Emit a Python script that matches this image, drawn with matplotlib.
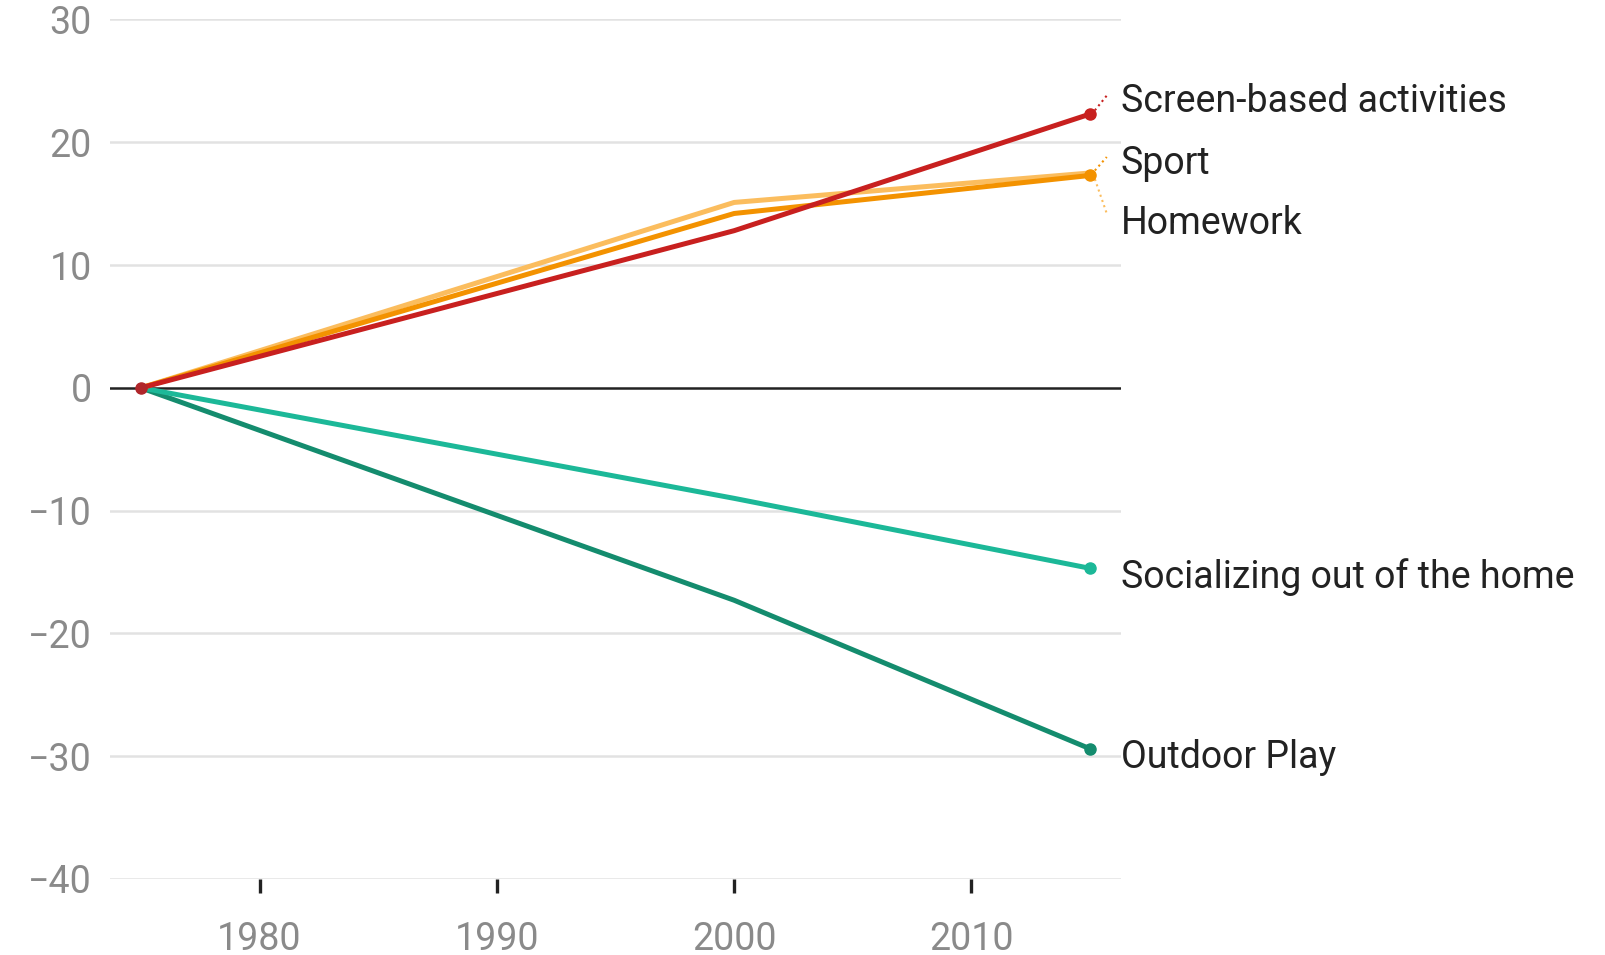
import numpy as np
import matplotlib.pyplot as plt

plt.rcParams['font.family'] = ['Roboto', 'DejaVu Sans']

years = [1975, 2000, 2015]
screen = [0, 12.8, 22.3]
sport = [0, 14.2, 17.3]
homework = [0, 15.1, 17.5]
social = [0, -9.0, -14.7]
outdoor = [0, -17.3, -29.4]

series = [
    ("Outdoor Play", outdoor, "#148c6e", -30.1),
    ("Socializing out of the home", social, "#1cb898", -15.4),
    ("Homework", homework, "#fbbd5e", 13.4),
    ("Sport", sport, "#f39200", 18.3),
    ("Screen-based activities", screen, "#c8201f", 23.3),
]

fig = plt.figure(figsize=(16.06, 9.55), dpi=100)
ax = fig.add_axes([0.0685, 0.0796, 0.6295, 0.900])

ax.set_xlim(1973.7, 2016.3)
ax.set_ylim(-40, 30)

for y in range(-40, 31, 10):
    if y != 0:
        ax.axhline(y, color="#e2e2e2", lw=1.8, zorder=0)
ax.axhline(0, color="#222222", lw=1.8, zorder=1)

for name, vals, col, ly in series:
    ax.plot(years, vals, color=col, lw=3.6, solid_capstyle="round", zorder=3)
    if name != "Homework":
        ax.plot(years[-1], vals[-1], "o", color=col, ms=8, zorder=4)
    ax.text(2016.3, ly, name, fontsize=27, color="#222222",
            va="center", ha="left", clip_on=False)

# dotted connectors from end points to the labels
ax.plot([2015.2, 2015.7], [22.6, 23.8], ls=":", color="#c8201f", lw=1.5, clip_on=False)
ax.plot([2015.2, 2015.7], [17.7, 18.8], ls=":", color="#f39200", lw=1.5, clip_on=False)
ax.plot([2015.2, 2015.7], [17.0, 14.2], ls=":", color="#fbbd5e", lw=1.5, clip_on=False)

ax.plot(1975, 0, "o", color="#b0262a", ms=8, zorder=5)

for s in ax.spines.values():
    s.set_visible(False)

ax.set_yticks(range(-40, 31, 10))
ax.set_yticklabels([str(v).replace("-", "\u2212") for v in range(-40, 31, 10)])
ax.tick_params(axis="y", length=0, pad=13, labelsize=27, labelcolor="#8a8a8a")

ax.set_xticks([1980, 1990, 2000, 2010])
ax.tick_params(axis="x", direction="out", length=10, width=2.4, color="#222222",
               pad=20, labelsize=27, labelcolor="#8a8a8a")

fig.savefig("out.png", dpi=100)
